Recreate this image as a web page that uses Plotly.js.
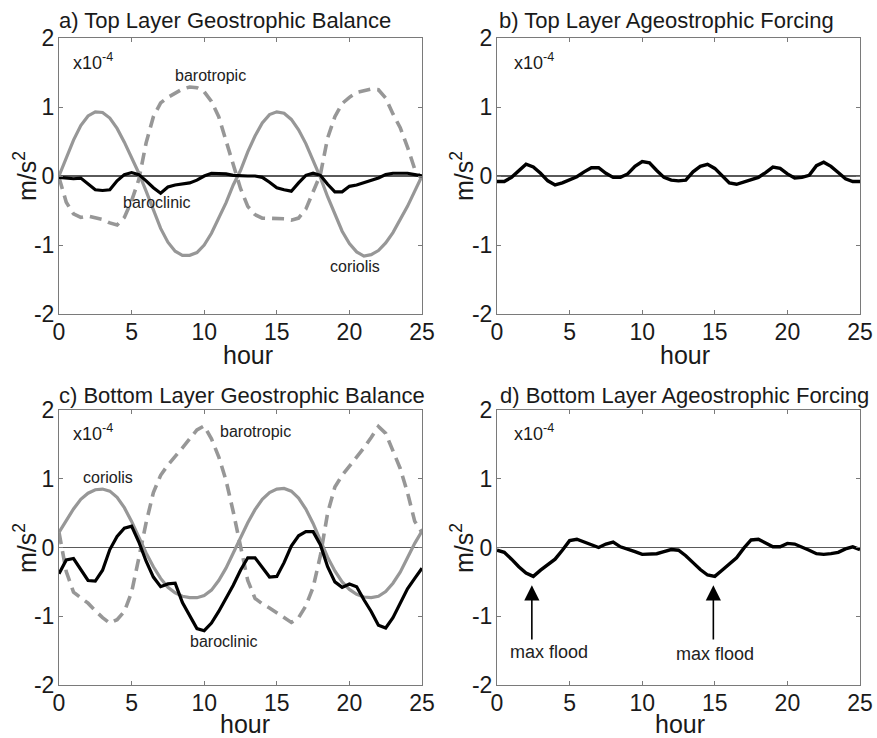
<!DOCTYPE html>
<html>
<head>
<meta charset="utf-8">
<script src="https://cdn.plot.ly/plotly-3.0.1.min.js"></script>
<style>html,body{margin:0;padding:0;background:#fff;}#chart{width:877px;height:738px;}</style>
</head>
<body>
<div id="chart"></div>
<script>
const hours = [0,0.5,1,1.5,2,2.5,3,3.5,4,4.5,5,5.5,6,6.5,7,7.5,8,8.5,9,9.5,10,10.5,11,11.5,12,12.5,13,13.5,14,14.5,15,15.5,16,16.5,17,17.5,18,18.5,19,19.5,20,20.5,21,21.5,22,22.5,23,23.5,24,24.5,25];

// a) Top layer geostrophic balance (x1e-4 m/s^2)
const coriolisTop = [0,0.27,0.52,0.73,0.87,0.93,0.92,0.84,0.69,0.49,0.27,0.04,-0.22,-0.50,-0.76,-0.96,-1.09,-1.15,-1.15,-1.11,-1.00,-0.83,-0.62,-0.39,-0.13,0.08,0.35,0.58,0.77,0.89,0.93,0.91,0.82,0.67,0.47,0.23,-0.02,-0.30,-0.56,-0.80,-0.98,-1.10,-1.16,-1.14,-1.08,-0.97,-0.82,-0.64,-0.44,-0.22,0];
const barotropicTop = [-0.02,-0.38,-0.55,-0.60,-0.58,-0.60,-0.63,-0.68,-0.71,-0.60,-0.36,-0.05,0.48,0.86,1.06,1.14,1.20,1.26,1.29,1.28,1.22,1.08,0.86,0.50,0.18,-0.18,-0.44,-0.56,-0.61,-0.61,-0.61,-0.62,-0.64,-0.61,-0.48,-0.22,0.02,0.55,0.86,1.05,1.14,1.21,1.24,1.26,1.25,1.13,0.90,0.70,0.42,0.10,-0.05];
const baroclinicTop = [-0.02,-0.03,-0.04,-0.03,-0.12,-0.20,-0.21,-0.20,-0.07,0.02,0.05,0.02,-0.07,-0.17,-0.25,-0.16,-0.13,-0.12,-0.10,-0.06,0.00,0.04,0.04,0.03,0.01,0.00,0.00,0.00,-0.02,-0.09,-0.17,-0.20,-0.22,-0.10,0.01,0.04,0.01,-0.12,-0.23,-0.23,-0.15,-0.13,-0.10,-0.07,-0.03,0.02,0.04,0.04,0.04,0.02,0.00];

// b) Top layer ageostrophic forcing
const ageoTop = [-0.08,-0.08,-0.02,0.08,0.17,0.13,0.04,-0.07,-0.13,-0.10,-0.06,-0.01,0.06,0.12,0.12,0.04,-0.02,-0.02,0.03,0.14,0.21,0.19,0.08,-0.02,-0.06,-0.07,-0.06,0.06,0.14,0.17,0.11,0.01,-0.10,-0.12,-0.09,-0.06,-0.02,0.05,0.13,0.11,0.03,-0.03,-0.02,0.01,0.15,0.20,0.14,0.05,-0.04,-0.08,-0.08];

// c) Bottom layer geostrophic balance
const coriolisBot = [0.22,0.40,0.56,0.70,0.79,0.84,0.85,0.82,0.73,0.58,0.38,0.15,-0.08,-0.28,-0.45,-0.58,-0.66,-0.71,-0.73,-0.73,-0.70,-0.62,-0.48,-0.30,-0.08,0.14,0.36,0.55,0.70,0.80,0.85,0.86,0.82,0.72,0.56,0.35,0.10,-0.14,-0.34,-0.50,-0.61,-0.68,-0.72,-0.73,-0.71,-0.64,-0.52,-0.36,-0.15,0.06,0.24];
const barotropicBot = [0.22,-0.35,-0.65,-0.73,-0.81,-0.92,-1.02,-1.10,-1.05,-0.93,-0.65,-0.15,0.36,0.80,1.05,1.20,1.32,1.45,1.58,1.71,1.77,1.58,1.32,0.98,0.52,0.02,-0.48,-0.74,-0.82,-0.88,-0.95,-1.02,-1.09,-1.02,-0.85,-0.58,-0.12,0.50,0.88,1.05,1.18,1.30,1.45,1.60,1.76,1.66,1.42,1.15,0.80,0.38,0.22];
const baroclinicBot = [-0.38,-0.18,-0.16,-0.33,-0.48,-0.49,-0.33,-0.03,0.16,0.28,0.31,0.08,-0.20,-0.43,-0.57,-0.53,-0.52,-0.80,-1.00,-1.18,-1.21,-1.10,-0.93,-0.75,-0.55,-0.33,-0.15,-0.15,-0.29,-0.43,-0.42,-0.22,0.02,0.17,0.23,0.23,0.04,-0.28,-0.50,-0.58,-0.53,-0.57,-0.76,-0.93,-1.13,-1.17,-1.02,-0.80,-0.60,-0.45,-0.30];

// d) Bottom layer ageostrophic forcing
const ageoBot = [-0.04,-0.07,-0.17,-0.28,-0.37,-0.42,-0.33,-0.25,-0.17,-0.04,0.10,0.12,0.08,0.03,0.00,0.05,0.08,0.01,-0.02,-0.06,-0.10,-0.10,-0.09,-0.06,-0.03,-0.04,-0.12,-0.22,-0.32,-0.40,-0.42,-0.33,-0.24,-0.15,-0.01,0.11,0.12,0.06,0.01,0.01,0.06,0.05,0.01,-0.04,-0.09,-0.10,-0.09,-0.07,-0.02,0.01,-0.03];

const xTicks = [0,5,10,15,20,25];
const yTickVals = [-2,-1,0,1,2];
const yTickText = ['-2','-1','0','1','2'];
const panelTitles = ['a) Top Layer Geostrophic Balance','b) Top Layer Ageostrophic Forcing','c) Bottom Layer Geostrophic Balance','d) Bottom Layer Ageostrophic Forcing'];
const floodHours = [2.4, 14.9];
const floodLabel = 'max flood';

const GRAY = '#979797';
const FONT = 'Liberation Sans, Arial, Helvetica, sans-serif';
const W = 877, H = 738;

function px(x){return x/W;}
function py(y){return 1 - y/H;}

function line(x, y, ax, color, width, dash){
  return {x:x, y:y, xaxis:'x'+ax, yaxis:'y'+ax, type:'scatter', mode:'lines',
    line:{color:color, width:width, dash:dash||'solid'}, hoverinfo:'skip', showlegend:false};
}

const data = [
  line(hours, coriolisTop, '', GRAY, 3.2),
  line(hours, barotropicTop, '', GRAY, 3.6, '12px,7px'),
  line(hours, baroclinicTop, '', '#000', 3.2),
  line(hours, ageoTop, '2', '#000', 3.4),
  line(hours, coriolisBot, '3', GRAY, 3.2),
  line(hours, barotropicBot, '3', GRAY, 3.6, '12px,7px'),
  line(hours, baroclinicBot, '3', '#000', 3.2),
  line(hours, ageoBot, '4', '#000', 3.4)
];

function xa(domain, anchor){
  return {domain:domain, anchor:anchor, range:[0,25], tickvals:xTicks, ticks:'inside', ticklen:4,
    tickcolor:'#7a7a7a', showline:true, linecolor:'#7a7a7a', linewidth:1, mirror:'ticks',
    showgrid:false, zeroline:false, ticklabelstandoff:-3,
    tickfont:{size:23, color:'#1a1a1a', family:FONT}, fixedrange:true};
}
function ya(domain, anchor){
  return {domain:domain, anchor:anchor, range:[-2,2], tickvals:yTickVals, ticktext:yTickText,
    ticks:'inside', ticklen:4, tickcolor:'#7a7a7a', showline:true, linecolor:'#7a7a7a', linewidth:1,
    mirror:'ticks', showgrid:false, zeroline:true, zerolinecolor:'#5a5a5a', zerolinewidth:1.2,
    ticklabelstandoff:-1,
    tickfont:{size:23, color:'#1a1a1a', family:FONT}, fixedrange:true};
}

const xLeft = [px(59), px(422)], xRight = [px(497), px(860)];
const yTop = [py(314), py(38)], yBot = [py(685), py(410)];

const annotations = [];
function ann(o){ annotations.push(Object.assign({showarrow:false, font:{family:FONT, size:16, color:'#222'}}, o)); }

// Panel titles
const titlePos = [[57,20],[497,20],[57,395],[498,395]];
panelTitles.forEach((t,i)=>{
  ann({text:t, xref:'paper', yref:'paper', x:px(titlePos[i][0]), y:py(titlePos[i][1]), xanchor:'left', yanchor:'middle',
    font:{family:FONT, size:22, color:'#1a1a1a'}});
});
// Axis titles
const hourPos = [[248,355],[685,355],[245,724],[680,724]];
hourPos.forEach(p=>ann({text:'hour', xref:'paper', yref:'paper', x:px(p[0]), y:py(p[1]), xanchor:'center', yanchor:'middle', font:{family:FONT, size:25, color:'#1a1a1a'}}));
const unitPos = [[25,176],[462,176],[25,548],[462,548]];
unitPos.forEach(p=>ann({text:'m/s<sup>2</sup>', textangle:-90, xref:'paper', yref:'paper', x:px(p[0]), y:py(p[1]), xanchor:'center', yanchor:'middle', font:{family:FONT, size:25, color:'#1a1a1a'}}));
// Exponent labels
[['x','y',0.8,1.66],['x2','y2',1.0,1.66],['x3','y3',0.82,1.67],['x4','y4',1.05,1.68]].forEach(e=>{
  ann({text:'x10<sup>-4</sup>', xref:e[0], yref:e[1], x:e[2], y:e[3], xanchor:'left', yanchor:'middle', font:{family:FONT, size:18, color:'#1a1a1a'}});
});
// Series labels
ann({text:'barotropic', xref:'x', yref:'y', x:10.45, y:1.45});
ann({text:'baroclinic', xref:'x', yref:'y', x:6.76, y:-0.38});
ann({text:'coriolis', xref:'x', yref:'y', x:20.4, y:-1.31});
ann({text:'coriolis', xref:'x3', yref:'y3', x:3.4, y:1.02});
ann({text:'barotropic', xref:'x3', yref:'y3', x:13.5, y:1.69});
ann({text:'baroclinic', xref:'x3', yref:'y3', x:11.36, y:-1.36});
// Max flood arrows
floodHours.forEach(h=>{
  annotations.push({text:'', xref:'x4', yref:'y4', axref:'x4', ayref:'y4', x:h, y:-0.55, ax:h, ay:-1.36,
    showarrow:true, arrowhead:2, arrowsize:1.9, arrowwidth:1.6, arrowcolor:'#000', standoff:0, startstandoff:0});
});
ann({text:floodLabel, xref:'x4', yref:'y4', x:3.55, y:-1.52, font:{family:FONT, size:18, color:'#222'}});
ann({text:floodLabel, xref:'x4', yref:'y4', x:15.0, y:-1.55, font:{family:FONT, size:18, color:'#222'}});

const layout = {
  width:W, height:H, margin:{l:0,r:0,t:0,b:0}, paper_bgcolor:'#fff', plot_bgcolor:'#fff',
  font:{family:FONT, color:'#1a1a1a'}, showlegend:false,
  xaxis:xa(xLeft,'y'), yaxis:ya(yTop,'x'),
  xaxis2:xa(xRight,'y2'), yaxis2:ya(yTop,'x2'),
  xaxis3:xa(xLeft,'y3'), yaxis3:ya(yBot,'x3'),
  xaxis4:xa(xRight,'y4'), yaxis4:ya(yBot,'x4'),
  annotations:annotations
};

Plotly.newPlot('chart', data, layout, {displayModeBar:false, staticPlot:true});
</script>
</body>
</html>
